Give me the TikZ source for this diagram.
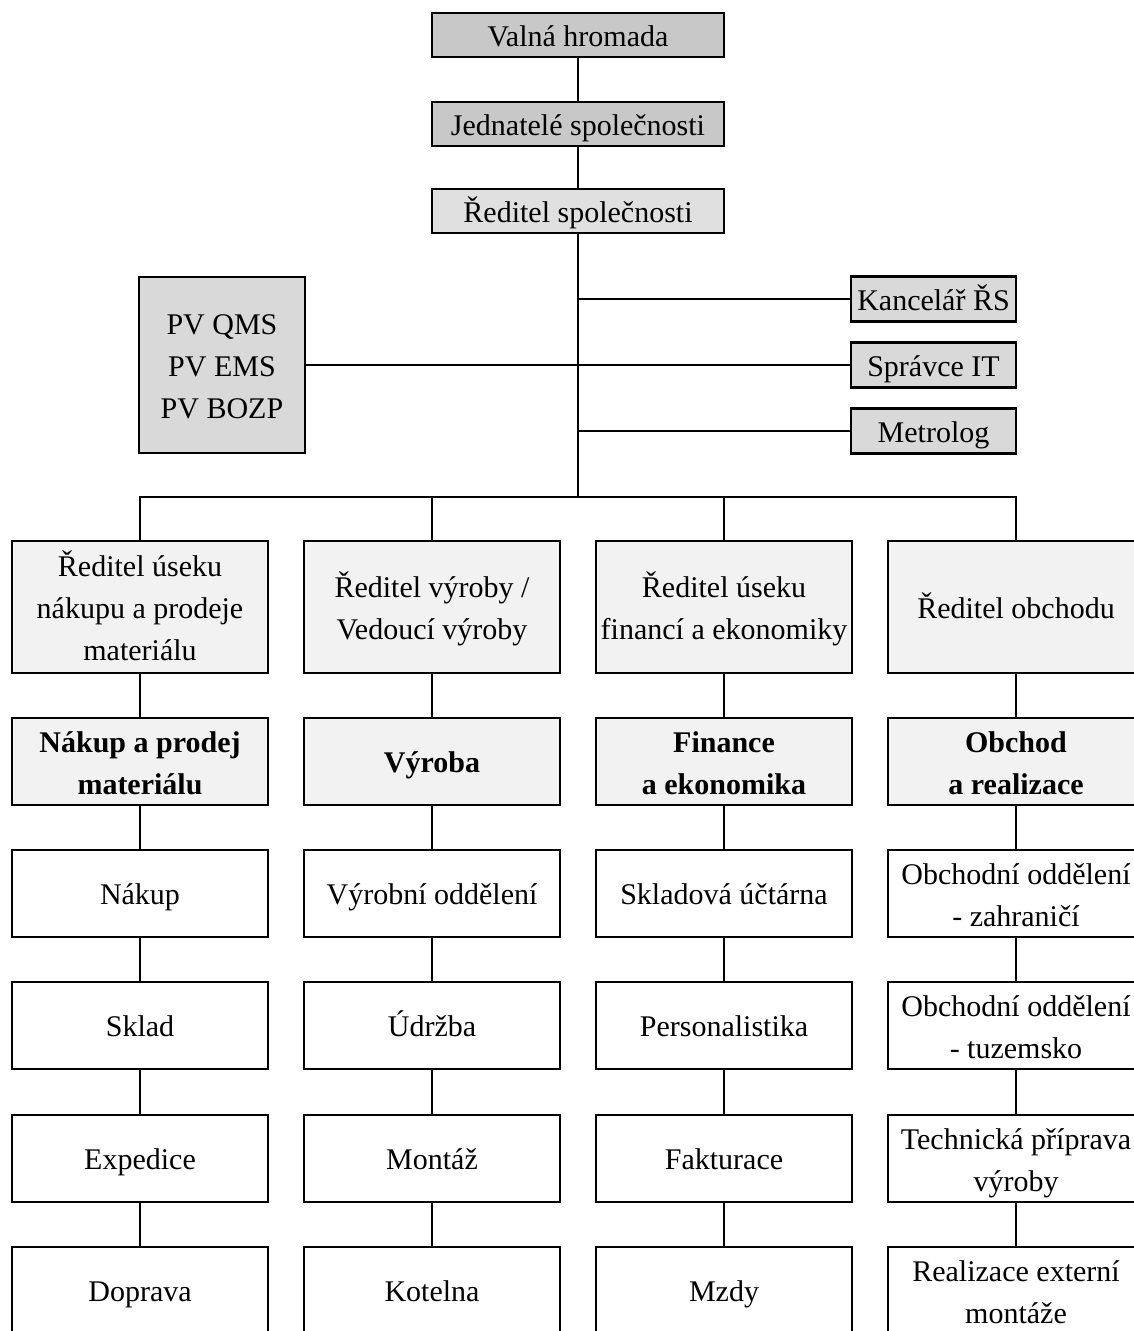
\documentclass[tikz,border=0pt]{standalone}
\usepackage{fontspec}
\setmainfont{Liberation Serif}
% line struts used to centre every label the same way
\newcommand{\boxstrut}{\rule[-10pt]{0pt}{42pt}}
\newcommand{\tall}{\rule{0pt}{33pt}}
\begin{document}
\begin{tikzpicture}[x=1pt,y=-1pt,
  every node/.style={font=\fontsize{30}{42}\selectfont},
  box/.style={draw=black,line width=2.4pt,inner sep=0pt,align=center,
              minimum width=256pt,minimum height=87pt,
              execute at begin node=\boxstrut,execute at end node=\boxstrut},
  topbox/.style={box,minimum width=292pt,minimum height=44pt},
  sidebox/.style={box,minimum width=165pt,minimum height=45pt,fill=grayC},
  headbox/.style={box,minimum height=132pt,fill=grayL},
  deptbox/.style={box,fill=grayL,font=\fontsize{30}{42}\selectfont\bfseries},
  unitbox/.style={box,fill=white},
  link/.style={line width=2.2pt}]
\definecolor{grayA}{HTML}{C8C8C8}
\definecolor{grayB}{HTML}{E0E0E0}
\definecolor{grayC}{HTML}{D9D9D9}
\definecolor{grayL}{HTML}{F2F2F2}
\useasboundingbox (0,0) rectangle (1134,1331);
\clip (0,0) rectangle (1134,1331);

% top of the hierarchy
\node[topbox,fill=grayA] (vh) at (578,35) {Valná hromada};
\node[topbox,fill=grayA] (js) at (578,124) {Jednatelé společnosti};
\node[topbox,fill=grayB] (rs) at (578,211) {Ředitel společnosti};

% staff positions
\node[box,fill=grayC,minimum width=166pt,minimum height=176pt] (pv) at (222,365)
  {\tall PV QMS\\PV EMS\\PV BOZP};
\node[sidebox] (ks) at (933.5,299) {Kancelář ŘS};
\node[sidebox] (it) at (933.5,365) {Správce IT};
\node[sidebox] (met) at (933.5,431) {Metrolog};

% division directors
\node[headbox] (d1) at (140,607) {\tall Ředitel úseku\\nákupu a prodeje\\materiálu};
\node[headbox] (d2) at (432,607) {\tall Ředitel výroby /\\Vedoucí výroby};
\node[headbox] (d3) at (724,607) {\tall Ředitel úseku\\financí a ekonomiky};
\node[headbox] (d4) at (1016,607) {Ředitel obchodu};

% divisions
\node[deptbox] (e1) at (140,761.5) {\tall Nákup a prodej\\materiálu};
\node[deptbox] (e2) at (432,761.5) {Výroba};
\node[deptbox] (e3) at (724,761.5) {\tall Finance\\a ekonomika};
\node[deptbox] (e4) at (1016,761.5) {\tall Obchod\\a realizace};

% departments
\node[unitbox] (a1) at (140,893.5) {Nákup};
\node[unitbox] (b1) at (140,1025.5) {Sklad};
\node[unitbox] (c1) at (140,1158.5) {Expedice};
\node[unitbox] (f1) at (140,1290.5) {Doprava};

\node[unitbox] (a2) at (432,893.5) {Výrobní oddělení};
\node[unitbox] (b2) at (432,1025.5) {Údržba};
\node[unitbox] (c2) at (432,1158.5) {Montáž};
\node[unitbox] (f2) at (432,1290.5) {Kotelna};

\node[unitbox] (a3) at (724,893.5) {Skladová účtárna};
\node[unitbox] (b3) at (724,1025.5) {Personalistika};
\node[unitbox] (c3) at (724,1158.5) {Fakturace};
\node[unitbox] (f3) at (724,1290.5) {Mzdy};

\node[unitbox] (a4) at (1016,893.5) {\tall Obchodní oddělení\\- zahraničí};
\node[unitbox] (b4) at (1016,1025.5) {\tall Obchodní oddělení\\- tuzemsko};
\node[unitbox] (c4) at (1016,1158.5) {\tall Technická příprava\\výroby};
\node[unitbox] (f4) at (1016,1290.5) {\tall Realizace externí\\montáže};

% connectors
\coordinate (bar) at (578,497);
\draw[link] (vh) -- (js);
\draw[link] (js) -- (rs);
\draw[link] (rs.south) -- (bar);
\draw[link] (ks.west) -- (ks.west -| rs.south);
\draw[link] (met.west) -- (met.west -| rs.south);
\draw[link] (pv.east) -- (it.west);
\draw[link] (d1.north) |- (bar) -| (d4.north);
\draw[link] (d2.north) -- (d2.north |- bar);
\draw[link] (d3.north) -- (d3.north |- bar);
\foreach \i in {1,2,3,4}{
  \draw[link] (d\i) -- (e\i);
  \draw[link] (e\i) -- (a\i);
  \draw[link] (a\i) -- (b\i);
  \draw[link] (b\i) -- (c\i);
  \draw[link] (c\i) -- (f\i);
}
\end{tikzpicture}
\end{document}
